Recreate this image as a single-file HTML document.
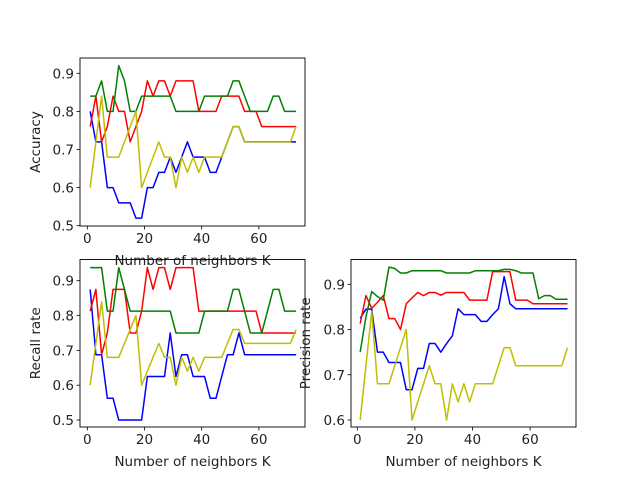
<!DOCTYPE html>
<html><head><meta charset="utf-8"><style>
body{margin:0;background:#fff}
svg{display:block;font-family:"DejaVu Sans","Liberation Sans",sans-serif}
</style></head><body>
<svg id="fig" width="640" height="480" viewBox="0 0 640 480"></svg>
<script>
const ks = [1,3,5,7,9,11,13,15,17,19,21,23,25,27,29,31,33,35,37,39,41,43,45,47,49,51,53,55,57,59,61,63,65,67,69,71,73];
const xTicks = [0,20,40,60];
const yellowVals = [0.6,0.72,0.84,0.68,0.68,0.68,0.72,0.76,0.8,0.6,0.64,0.68,0.72,0.68,0.68,0.6,0.68,0.64,0.68,0.64,0.68,0.68,0.68,0.68,0.72,0.76,0.76,0.72,0.72,0.72,0.72,0.72,0.72,0.72,0.72,0.72,0.76];
const accBlue = [0.8,0.72,0.72,0.6,0.6,0.56,0.56,0.56,0.52,0.52,0.6,0.6,0.64,0.64,0.68,0.64,0.68,0.72,0.68,0.68,0.68,0.64,0.64,0.68,0.72,0.76,0.76,0.72,0.72,0.72,0.72,0.72,0.72,0.72,0.72,0.72,0.72];
const accRed = [0.76,0.84,0.72,0.76,0.84,0.8,0.8,0.72,0.76,0.8,0.88,0.84,0.88,0.88,0.84,0.88,0.88,0.88,0.88,0.8,0.8,0.8,0.8,0.84,0.84,0.84,0.84,0.8,0.8,0.8,0.76,0.76,0.76,0.76,0.76,0.76,0.76];
const accGreen = [0.84,0.84,0.88,0.8,0.8,0.92,0.88,0.8,0.8,0.84,0.84,0.84,0.84,0.84,0.84,0.8,0.8,0.8,0.8,0.8,0.84,0.84,0.84,0.84,0.84,0.88,0.88,0.84,0.8,0.8,0.8,0.8,0.84,0.84,0.8,0.8,0.8];
const accTicks = [0.5,0.6,0.7,0.8,0.9];
const recBlue = [0.875,0.6875,0.6875,0.5625,0.5625,0.5,0.5,0.5,0.5,0.5,0.625,0.625,0.625,0.625,0.75,0.625,0.6875,0.6875,0.625,0.625,0.625,0.5625,0.5625,0.625,0.6875,0.6875,0.75,0.6875,0.6875,0.6875,0.6875,0.6875,0.6875,0.6875,0.6875,0.6875,0.6875];
const recRed = [0.8125,0.875,0.6875,0.75,0.875,0.875,0.875,0.75,0.75,0.8125,0.9375,0.875,0.9375,0.9375,0.875,0.9375,0.9375,0.9375,0.9375,0.8125,0.8125,0.8125,0.8125,0.8125,0.8125,0.8125,0.8125,0.8125,0.8125,0.8125,0.75,0.75,0.75,0.75,0.75,0.75,0.75];
const recGreen = [0.9375,0.9375,0.9375,0.8125,0.8125,0.9375,0.875,0.8125,0.8125,0.8125,0.8125,0.8125,0.8125,0.8125,0.8125,0.75,0.75,0.75,0.75,0.75,0.8125,0.8125,0.8125,0.8125,0.8125,0.875,0.875,0.8125,0.75,0.75,0.75,0.8125,0.875,0.875,0.8125,0.8125,0.8125];
const recTicks = [0.5,0.6,0.7,0.8,0.9];
const preBlue = [0.825,0.845,0.845,0.75,0.75,0.727,0.727,0.727,0.667,0.667,0.714,0.714,0.769,0.769,0.75,0.769,0.786,0.846,0.833,0.833,0.833,0.818,0.818,0.833,0.846,0.917,0.857,0.846,0.846,0.846,0.846,0.846,0.846,0.846,0.846,0.846,0.846];
const preRed = [0.813,0.875,0.847,0.86,0.875,0.824,0.824,0.8,0.857,0.87,0.882,0.875,0.882,0.882,0.876,0.882,0.882,0.882,0.882,0.865,0.865,0.865,0.865,0.928,0.928,0.928,0.928,0.865,0.865,0.865,0.857,0.857,0.857,0.857,0.857,0.857,0.857];
const preGreen = [0.75,0.828,0.884,0.873,0.865,0.938,0.935,0.925,0.925,0.93,0.93,0.93,0.93,0.93,0.93,0.925,0.925,0.925,0.925,0.925,0.93,0.93,0.93,0.93,0.93,0.933,0.933,0.93,0.925,0.925,0.925,0.868,0.875,0.875,0.867,0.867,0.867];
const preTicks = [0.6,0.7,0.8,0.9];

const NS='http://www.w3.org/2000/svg';
const svg=document.getElementById('fig');
function mk(tag,attrs,parent){const e=document.createElementNS(NS,tag);for(const k in attrs)e.setAttribute(k,attrs[k]);(parent||svg).appendChild(e);return e;}

function panel(p){
  const g=mk('g',{});
  
  
  const xs=v=>p.x0+(v-0)*p.xk;
  const ys=v=>p.yRef+(p.vRef-v)*p.yk;
  p.series.forEach(s=>{
    const pts=ks.map((k,i)=>xs(k).toFixed(2)+','+ys(s.v[i]).toFixed(2)).join(' ');
    const l=mk('polyline',{points:pts,fill:'none',stroke:s.c,'stroke-width':1.5,'stroke-linejoin':'round'},g);
    
    
  });
  const fr=mk('rect',{x:p.l,y:p.t,width:p.r-p.l,height:p.b-p.t,fill:'none',stroke:'#000','stroke-width':0.9},g);
  
  
  xTicks.forEach(v=>{
    const x=xs(v);
    mk('line',{x1:x,x2:x,y1:p.b,y2:p.b+3.5,stroke:'#000','stroke-width':0.8},g);
    const t=mk('text',{x:x,y:p.b+17,'font-size':13.5,'text-anchor':'middle',fill:'#222'},g);
    t.textContent=v;
    
    
  });
  p.yTicks.forEach(v=>{
    const y=ys(v);
    mk('line',{x1:p.l-3.5,x2:p.l,y1:y,y2:y,stroke:'#000','stroke-width':0.8},g);
    const t=mk('text',{x:p.l-6,y:y+5,'font-size':13.5,'text-anchor':'end',fill:'#222'},g);
    t.textContent=v.toFixed(1);
    
    
  });
  const xl=mk('text',{x:(p.l+p.r)/2,y:p.b+39,'font-size':13.5,'text-anchor':'middle',fill:'#222'},g);
  xl.textContent='Number of neighbors K';
  
  
  const yl=mk('text',{x:0,y:0,'font-size':13.5,'text-anchor':'middle',fill:'#222',transform:`translate(${p.ylx},${(p.t+p.b)/2}) rotate(-90)`},g);
  yl.textContent=p.ylabel;
  
  
}

panel({name:'accuracy-panel',l:80,r:305,t:58,b:226,x0:87.3,xk:2.86,vRef:0.9,yRef:73.3,yk:381,yTicks:accTicks,ylabel:'Accuracy',ylx:40,
  series:[{n:'accuracy-blue',c:'#0000ff',v:accBlue},{n:'accuracy-red',c:'#ff0000',v:accRed},{n:'accuracy-green',c:'#008000',v:accGreen},{n:'accuracy-yellow',c:'#bfbf00',v:yellowVals}]});
panel({name:'recall-panel',l:80,r:305,t:259.5,b:427,x0:87.3,xk:2.86,vRef:0.9,yRef:280.7,yk:348.3,yTicks:recTicks,ylabel:'Recall rate',ylx:40,
  series:[{n:'recall-blue',c:'#0000ff',v:recBlue},{n:'recall-red',c:'#ff0000',v:recRed},{n:'recall-green',c:'#008000',v:recGreen},{n:'recall-yellow',c:'#bfbf00',v:yellowVals}]});
panel({name:'precision-panel',l:351,r:576,t:259.5,b:427,x0:357.3,xk:2.88,vRef:0.9,yRef:284.3,yk:452.3,yTicks:preTicks,ylabel:'Precision rate',ylx:310,
  series:[{n:'precision-blue',c:'#0000ff',v:preBlue},{n:'precision-red',c:'#ff0000',v:preRed},{n:'precision-green',c:'#008000',v:preGreen},{n:'precision-yellow',c:'#bfbf00',v:yellowVals}]});
</script>
</body></html>
